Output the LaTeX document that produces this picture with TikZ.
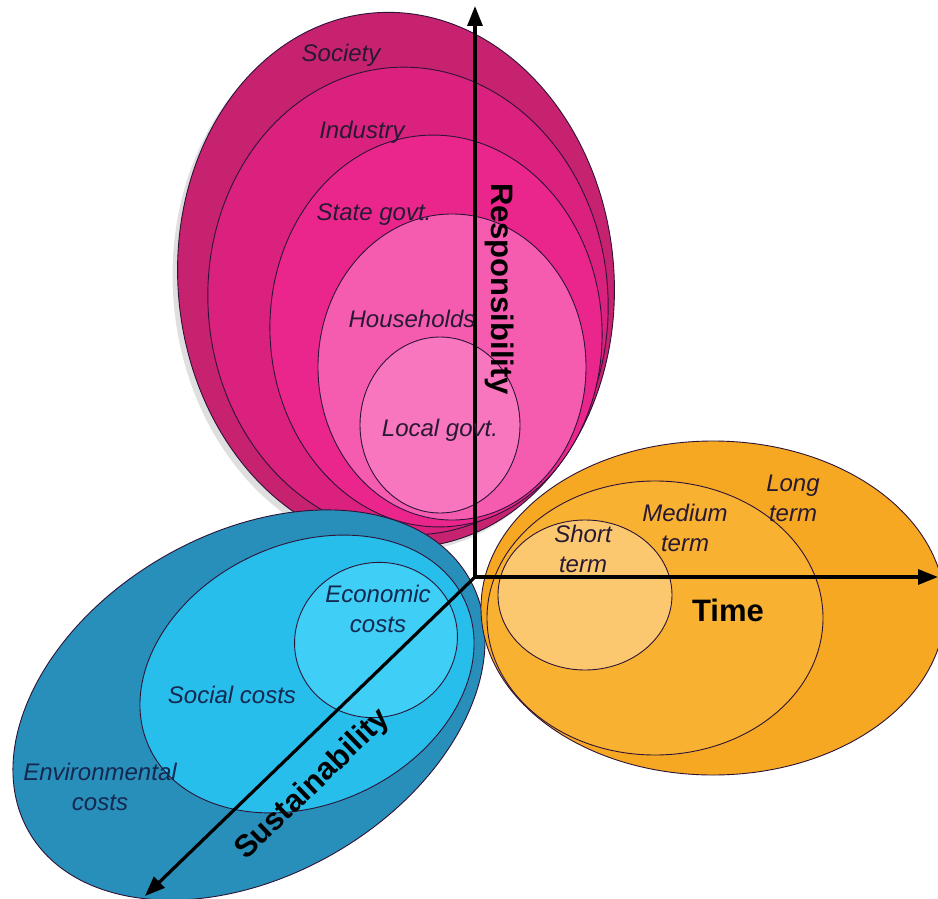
\documentclass[tikz,border=0pt]{standalone}
\usepackage{fontspec}
\setmainfont{Liberation Sans}
\usetikzlibrary{arrows.meta,shadows}
\definecolor{cSoc}{RGB}{198,34,112}
\definecolor{cInd}{RGB}{218,33,125}
\definecolor{cSta}{RGB}{234,38,140}
\definecolor{cHou}{RGB}{245,92,176}
\definecolor{cLoc}{RGB}{247,118,190}
\definecolor{cEnv}{RGB}{40,142,186}
\definecolor{cSoci}{RGB}{40,190,235}
\definecolor{cEco}{RGB}{62,206,246}
\definecolor{cLong}{RGB}{247,168,35}
\definecolor{cMed}{RGB}{249,177,50}
\definecolor{cShort}{RGB}{251,200,112}
\definecolor{edge}{RGB}{45,20,55}
\definecolor{ink}{RGB}{40,25,50}
\definecolor{inkb}{RGB}{20,40,80}
\tikzset{
  ring/.style={draw=edge, line width=0.9pt},
  lab/.style={font=\fontsize{24}{30}\selectfont\itshape, text=ink, align=center, inner sep=0pt},
  labb/.style={lab, text=inkb},
  axlab/.style={font=\fontsize{31}{34}\selectfont\bfseries, text=black, inner sep=0pt},
  axis/.style={line width=3.2pt, -{Triangle[length=20pt,width=15pt]}}
}
\begin{document}
\begin{tikzpicture}[x=1pt,y=-1pt]
\useasboundingbox[fill=white] (0,0) rectangle (938,899);
% Responsibility (pink)
\draw[ring, fill=cSoc, drop shadow={opacity=0.25, shadow xshift=-5pt, shadow yshift=-5pt}] [rotate around={5:(396,280)}] (396,280) ellipse [x radius=218, y radius=268];
\draw[ring, fill=cInd] [rotate around={4:(408,301)}] (408,301) ellipse [x radius=200, y radius=234];
\draw[ring, fill=cSta] [rotate around={3:(436,331)}] (436,331) ellipse [x radius=166, y radius=196];
\draw[ring, fill=cHou] (452,367) ellipse [x radius=134, y radius=153];
\draw[ring, fill=cLoc] (440,425) ellipse [x radius=80, y radius=88];
% Sustainability (blue)
\draw[ring, fill=cEnv] [rotate around={30:(249,705)}] (249,705) ellipse [x radius=254, y radius=171];
\draw[ring, fill=cSoci] [rotate around={25:(307,674)}] (307,674) ellipse [x radius=174, y radius=130];
\draw[ring, fill=cEco] [rotate around={20:(376,640)}] (376,640) ellipse [x radius=82, y radius=77];
% Time (orange)
\draw[ring, fill=cLong] (713,608) ellipse [x radius=232, y radius=167];
\draw[ring, fill=cMed] (655,618) ellipse [x radius=168, y radius=137];
\draw[ring, fill=cShort] (585,595) ellipse [x radius=87, y radius=75];
% axes
\coordinate (O) at (475,577);
\coordinate (Ytip) at (475,6);
\coordinate (Xtip) at (938,577);
\coordinate (Ztip) at (145,896);
\draw[axis] (O) -- (Ytip);
\draw[axis] (O) -- (Xtip);
\draw[axis] (O) -- (Ztip);
% labels
\node[lab] (soc) at (341,55) {Society};
\node[lab] (ind) at (362,132) {Industry};
\node[lab] (sta) at (374,215) {State govt.};
\node[lab] (hou) at (412,319) {Households};
\node[lab] (loc) at (440,430) {Local govt.};
\node[axlab, rotate=-90] (resp) at (500,289) {Responsibility};
\node[labb] (eco) at (378,609) {Economic\\costs};
\node[labb] (socc) at (232,695) {Social costs};
\node[labb] (env) at (100,787) {Environmental\\costs};
\node[axlab, rotate=44] (sust) at (313,785) {Sustainability};
\node[lab] (sho) at (583,549) {Short\\term};
\node[lab] (med) at (685,528) {Medium\\term};
\node[lab] (lon) at (793,498) {Long\\term};
\node[axlab] (time) at (728,610) {Time};
\end{tikzpicture}
\end{document}
